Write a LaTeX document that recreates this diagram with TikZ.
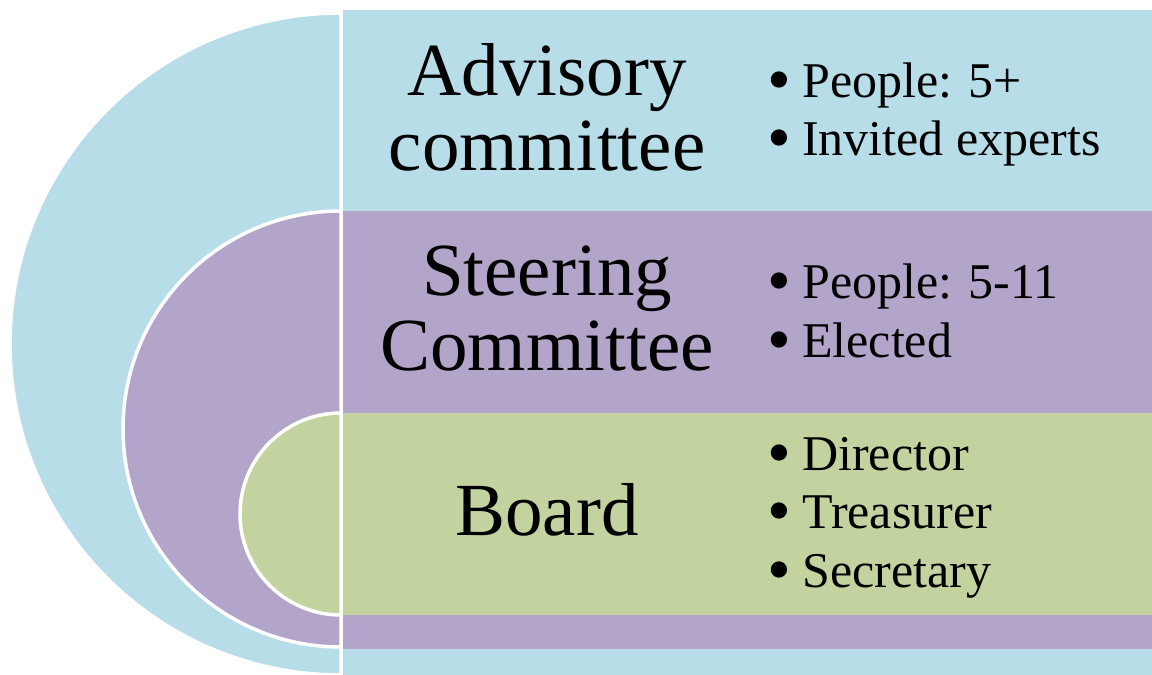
\documentclass[tikz,border=0pt]{standalone}
\usepackage{fontspec}
\setmainfont{Liberation Serif}
\definecolor{cblue}{RGB}{183,221,232}
\definecolor{cpurple}{RGB}{179,165,201}
\definecolor{cgreen}{RGB}{194,211,160}
\begin{document}
\begin{tikzpicture}[x=1pt,y=-1pt,
  title/.style={anchor=base,inner sep=0pt,font=\fontsize{75}{75}\selectfont},
  item/.style={anchor=base west,inner sep=0pt,font=\fontsize{50}{58}\selectfont},
  halfdisc/.style={draw=white,line width=3.5pt}]
\useasboundingbox (0,0) rectangle (1152,675);
% blue level
\fill[cblue] (341,10) rectangle (1152,675);
\path[halfdisc,fill=cblue] (341,13) arc[start angle=270,end angle=90,radius=331] -- cycle;
% purple level
\fill[cpurple] (341,211) rectangle (1152,649);
\path[halfdisc,fill=cpurple] (341,211) arc[start angle=270,end angle=90,radius=218] -- cycle;
% green level
\fill[cgreen] (341,413) rectangle (1152,615);
\path[halfdisc,fill=cgreen] (341,413) arc[start angle=270,end angle=90,radius=101] -- cycle;
% vertical separator
\draw[white,line width=3pt] (341,10) -- (341,675);
% titles
\node[title] (adv1) at (547,95) {Advisory};
\node[title] (adv2) at (547,170) {committee};
\node[title] (st1) at (547,295) {Steering};
\node[title] (st2) at (547,370) {Committee};
\node[title] (bd) at (547,535) {Board};
% items
\newcommand{\bul}{\makebox[35pt][l]{\smash{\raisebox{-5pt}{\fontsize{68}{58}\selectfont •}}}}
\node[item] (a1) at (767,97) {\bul People: 5+};
\node[item] (a2) at (767,155) {\bul Invited experts};
\node[item] (s1) at (767,298) {\bul People: 5-11};
\node[item] (s2) at (767,357) {\bul Elected};
\node[item] (b1) at (767,470) {\bul Director};
\node[item] (b2) at (767,528) {\bul Treasurer};
\node[item] (b3) at (767,587) {\bul Secretary};
\end{tikzpicture}
\end{document}
